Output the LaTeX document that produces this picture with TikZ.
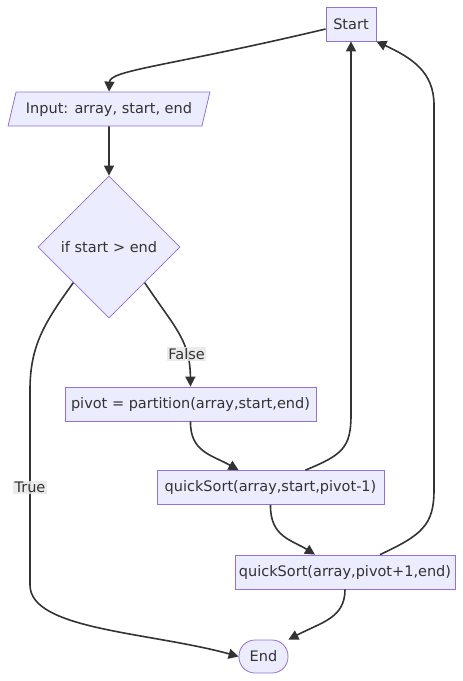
\documentclass[tikz,border=0pt]{standalone}
\usepackage{fontspec}
\setmainfont{DejaVu Sans}
\usetikzlibrary{shapes.geometric, arrows.meta, calc}
\definecolor{mFill}{HTML}{ECECFF}
\definecolor{mBorder}{HTML}{9370DB}
\definecolor{mLine}{HTML}{333333}
\definecolor{mLabel}{HTML}{E8E8E8}

\tikzset{
  every node/.style={font=\fontsize{14.5}{16}\selectfont, text=mLine},
  box/.style={rectangle, draw=mBorder, fill=mFill, line width=0.8pt, minimum height=34pt, inner sep=0pt},
  io/.style={trapezium, trapezium left angle=63, trapezium right angle=117, trapezium stretches=true,
             draw=mBorder, fill=mFill, line width=0.8pt, minimum height=34pt, minimum width=202pt, inner sep=0pt},
  decision/.style={diamond, aspect=1, draw=mBorder, fill=mFill, line width=0.8pt, minimum width=142pt, minimum height=142pt, inner sep=0pt},
  terminal/.style={rectangle, rounded corners=16pt, draw=mBorder, fill=mFill, line width=0.8pt, minimum width=49pt, minimum height=33pt, inner sep=0pt},
  flow/.style={draw=mLine, line width=1.6pt, -{Triangle[length=10pt, width=10pt]}},
  edgelabel/.style={fill=mLabel, fill opacity=0.85, text opacity=1, inner sep=1.5pt}
}

\begin{document}
\begin{tikzpicture}[x=1pt, y=-1pt]
  \useasboundingbox (0,0) rectangle (463,681);

  % nodes
  \node[box, minimum width=50pt] (start) at (351,24) {Start};
  \node[io] (input) at (109,109) {Input: array, start, end};
  \node[decision] (check) at (109,247) {if start > end};
  \node[box, minimum width=251pt] (pivot) at (190.5,404) {pivot = partition(array,start,end)};
  \node[box, minimum width=227pt] (left) at (270.5,487.5) {quickSort(array,start,pivot-1)};
  \node[box, minimum width=220pt] (right) at (345,572) {quickSort(array,pivot+1,end)};
  \node[terminal] (stop) at (263.5,656.5) {End};

  % connectors
  \draw[flow] ($(start.west)+(0,5)$) .. controls (170,66) and (110,70) .. (input.north);
  \draw[flow] (input.south) -- (check.north);
  \draw[flow] (check.south east) .. controls (175,328) and (190,340) .. (pivot.north)
      node[pos=0.72, edgelabel] {False};
  \draw[flow] (check.south west) .. controls (45,322) and (30,345) .. (30,390)
      -- (30,585) node[pos=0.5, edgelabel] {True}
      .. controls (30,630) and (150,632) .. (stop.west);
  \draw[flow] (pivot.south) .. controls (190,452) and (212,455) .. ($(left.north)+(-32,0)$);
  \draw[flow] ($(left.north)+(35,0)$) .. controls (342,455) and (351,448) .. (351,415) -- (start.south);
  \draw[flow] (left.south) .. controls (270,537) and (292,540) .. ($(right.north)+(-30,0)$);
  \draw[flow] ($(right.north)+(35,0)$) .. controls (422,535) and (434,525) .. (434,490)
      -- (434,105) .. controls (434,72) and (412,58) .. (start.south east);
  \draw[flow] (right.south) .. controls (345,618) and (322,622) .. (stop.north east);
\end{tikzpicture}
\end{document}
